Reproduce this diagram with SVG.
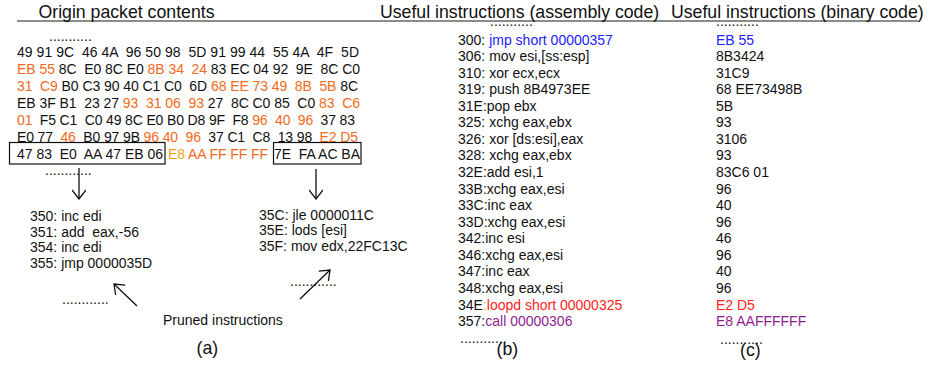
<svg xmlns="http://www.w3.org/2000/svg" width="929" height="367" viewBox="0 0 929 367">
<style>
text{font-family:"Liberation Sans",Arial,sans-serif;fill:#111}
.t{font-size:17.7px}
.h{font-size:14px}
.s{font-size:14px}
.d{font-size:14px}
.o{fill:#F26A21}
.y{fill:#F5A01E}
.b{fill:#2222FF}
.r{fill:#FF2222}
.p{fill:#8E1E8E}
.g{fill:#9ACD32}
.box{fill:none;stroke:#111;stroke-width:1.2}
.c{fill:none;stroke:#111;stroke-width:1.3}
</style>
<defs>
<marker id="ah" markerUnits="userSpaceOnUse" viewBox="0 0 11 14" markerWidth="11" markerHeight="14" refX="10" refY="7" orient="auto">
<path d="M1,0 L10,7 L1,14" fill="none" stroke="#111" stroke-width="1.3"/>
</marker>
</defs>
<rect width="929" height="367" fill="#fff"/>

<g id="titles">
<line x1="17" y1="21" x2="918" y2="21" stroke="#666" stroke-width="1.3"/>
<text class="t" x="38.5" y="18">Origin packet contents</text>
<text class="t" x="380" y="18">Useful instructions (assembly code)</text>
<text class="t" x="671" y="18">Useful instructions (binary code)</text>
</g>

<g id="packet">
<text class="d" x="49" y="41">...........</text>
<text class="h" x="17" y="57" xml:space="preserve" textLength="342" lengthAdjust="spacing">49 91 9C  46 4A  96 50 98  5D 91 99 44  55 4A  4F  5D</text>
<text class="h" x="17" y="74" xml:space="preserve" textLength="343" lengthAdjust="spacing"><tspan class="o">EB 55</tspan> 8C  E0 8C E0 <tspan class="o">8B 34  24</tspan> 83 EC 04 92  9E  8C C0</text>
<text class="h" x="17" y="91" xml:space="preserve" textLength="341" lengthAdjust="spacing"><tspan class="o">31  C9</tspan> B0 C3 90 40 C1 C0  6D <tspan class="o">68 EE 73 49  8B  5B</tspan> 8C</text>
<text class="h" x="17" y="108" xml:space="preserve" textLength="343" lengthAdjust="spacing">EB 3F B1  23 27 <tspan class="o">93  31 06  93</tspan> 27  8C C0 85  C0 <tspan class="o">83  C6</tspan></text>
<text class="h" x="17" y="125" xml:space="preserve" textLength="338" lengthAdjust="spacing"><tspan class="o">01</tspan>  F5 C1  C0 49 8C E0 B0 D8 9F  F8 <tspan class="o">96  40  96</tspan>  37 83</text>
<text class="h" x="17" y="142" xml:space="preserve" textLength="341" lengthAdjust="spacing">E0 77  <tspan class="o">46</tspan>  B0 97 9B <tspan class="o">96 40  96</tspan>  37 C1  C8  13 98  <tspan class="o">E2 D5</tspan></text>
<text class="h" x="17" y="159" xml:space="preserve" textLength="146" lengthAdjust="spacing">47 83  E0  AA 47 EB 06</text>
<text class="h" x="168" y="159" xml:space="preserve" textLength="100" lengthAdjust="spacing"><tspan class="y">E8</tspan><tspan class="o"> AA FF FF FF</tspan></text>
<text class="h" x="274" y="159" xml:space="preserve" textLength="86" lengthAdjust="spacing">7E  FA AC BA</text>
<rect class="box" x="9.5" y="142.5" width="155.5" height="21.5"/>
<rect class="box" x="273.5" y="142.5" width="87.5" height="21.5"/>
<text class="d" x="45" y="174.5">............</text>
</g>

<g id="pruned-left">
<text class="s" x="30" y="221">350: inc edi</text>
<text class="s" x="30" y="236.5" xml:space="preserve">351: add  eax,-56</text>
<text class="s" x="30" y="252">354: inc edi</text>
<text class="s" x="30" y="267.5">355: jmp 0000035D</text>
<text class="d" x="62" y="304">............</text>
</g>

<g id="pruned-right">
<text class="s" x="259" y="219.5">35C: jle 0000011C</text>
<text class="s" x="259" y="235">35E: lods [esi]</text>
<text class="s" x="259" y="250.5">35F: mov edx,22FC13C</text>
<text class="d" x="290" y="286">............</text>
</g>

<g id="pruned-label">
<text class="s" x="163" y="325">Pruned instructions</text>
</g>

<g id="connectors">
<line class="c" x1="79" y1="168" x2="79" y2="199" marker-end="url(#ah)"/>
<line class="c" x1="316" y1="169" x2="316" y2="199" marker-end="url(#ah)"/>
<line class="c" x1="137" y1="306" x2="114" y2="284" marker-end="url(#ah)"/>
<line class="c" x1="300" y1="299" x2="330" y2="270" marker-end="url(#ah)"/>
</g>

<g id="asm">
<text class="d" x="490" y="26">...........</text>
<text class="s" x="458" y="44.5">300: <tspan class="b">jmp short 00000357</tspan></text>
<text class="s" x="458" y="61.1">306: mov esi,[ss:esp]</text>
<text class="s" x="458" y="77.6">310: xor ecx,ecx</text>
<text class="s" x="458" y="94.2">319: push 8B4973EE</text>
<text class="s" x="458" y="110.7">31E:pop ebx</text>
<text class="s" x="458" y="127.3">325: xchg eax,ebx</text>
<text class="s" x="458" y="143.9">326: xor [ds:esi],eax</text>
<text class="s" x="458" y="160.4">328: xchg eax,ebx</text>
<text class="s" x="458" y="177">32E:add esi,1</text>
<text class="s" x="458" y="193.5">33B:xchg eax,esi</text>
<text class="s" x="458" y="210.1">33C:inc eax</text>
<text class="s" x="458" y="226.7">33D:xchg eax,esi</text>
<text class="s" x="458" y="243.2">342:inc esi</text>
<text class="s" x="458" y="259.8">346:xchg eax,esi</text>
<text class="s" x="458" y="276.3">347:inc eax</text>
<text class="s" x="458" y="292.9">348:xchg eax,esi</text>
<text class="s" x="458" y="309.5">34E<tspan class="g">:</tspan><tspan class="r">loopd short 00000325</tspan></text>
<text class="s" x="458" y="326">357:<tspan class="p">call 00000306</tspan></text>
<text class="d" x="460" y="343">............</text>
</g>

<g id="bin">
<text class="d" x="716" y="26">...........</text>
<text class="s b" x="716" y="44.5">EB 55</text>
<text class="s" x="716" y="61.1">8B3424</text>
<text class="s" x="716" y="77.6">31C9</text>
<text class="s" x="716" y="94.2">68 EE73498B</text>
<text class="s" x="716" y="110.7">5B</text>
<text class="s" x="716" y="127.3">93</text>
<text class="s" x="716" y="143.9">3106</text>
<text class="s" x="716" y="160.4">93</text>
<text class="s" x="716" y="177">83C6 01</text>
<text class="s" x="716" y="193.5">96</text>
<text class="s" x="716" y="210.1">40</text>
<text class="s" x="716" y="226.7">96</text>
<text class="s" x="716" y="243.2">46</text>
<text class="s" x="716" y="259.8">96</text>
<text class="s" x="716" y="276.3">40</text>
<text class="s" x="716" y="292.9">96</text>
<text class="s r" x="716" y="309.5">E2 D5</text>
<text class="s p" x="716" y="326">E8 AAFFFFFF</text>
<text class="d" x="720" y="344">...........</text>
</g>

<g id="captions">
<text class="t" x="196.5" y="354">(a)</text>
<text class="t" x="496.5" y="355">(b)</text>
<text class="t" x="740" y="356">(c)</text>
</g>
</svg>
